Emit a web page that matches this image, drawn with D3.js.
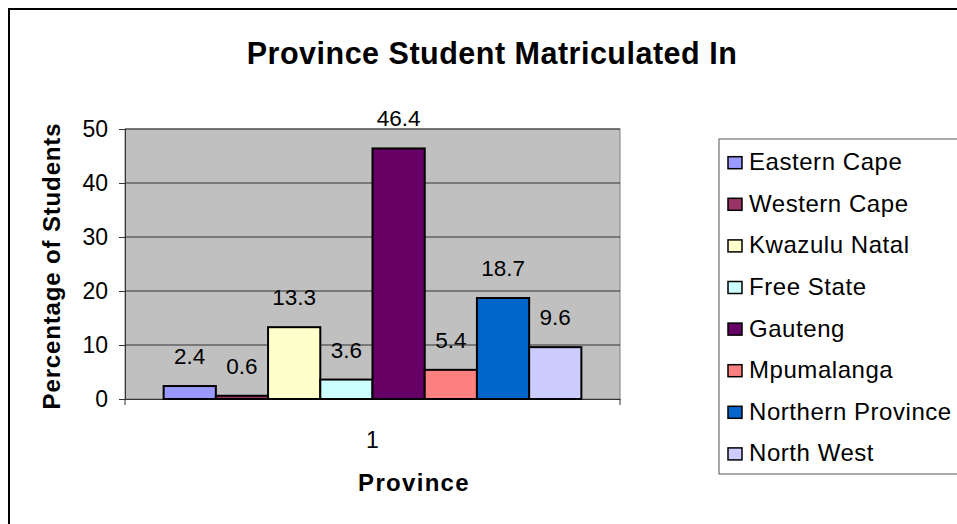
<!DOCTYPE html>
<html>
<head>
<meta charset="utf-8">
<script src="https://cdn.jsdelivr.net/npm/d3@7"></script>
<style>
  html, body { margin: 0; padding: 0; background: #fff; }
  svg { display: block; font-family: "Liberation Sans", Arial, sans-serif; }
</style>
</head>
<body>
<svg id="chart" width="957" height="524"></svg>
<script>
// Share of students by province of matriculation
const categories = ["1"];
const provinces = ["Eastern Cape", "Western Cape", "Kwazulu Natal", "Free State",
                   "Gauteng", "Mpumalanga", "Northern Province", "North West"];
const percentages = [2.4, 0.6, 13.3, 3.6, 46.4, 5.4, 18.7, 9.6];
const colors = ["#9999FF", "#993366", "#FFFFCC", "#CCFFFF",
                "#660066", "#FF8080", "#0066CC", "#CCCCFF"];
const yTicks = [0, 10, 20, 30, 40, 50];

const FONT = "Liberation Sans, Arial, sans-serif";
const svg = d3.select("#chart");
const plot = { left: 125, right: 620, top: 129, bottom: 399 };

// outer chart frame (runs past the right and bottom edges)
svg.append("rect")
  .attr("x", 9).attr("y", 9).attr("width", 1100).attr("height", 1100)
  .attr("fill", "#fff").attr("stroke", "#000").attr("stroke-width", 2);

const y = d3.scaleLinear().domain([0, 50]).range([plot.bottom, plot.top]);
const x0 = d3.scaleBand().domain(categories).range([plot.left, plot.right]);
const x1 = d3.scaleBand().domain(provinces).range([0, x0.bandwidth()])
  .paddingInner(0).paddingOuter(0.74);

// plot background
svg.append("rect")
  .attr("x", plot.left).attr("y", plot.top)
  .attr("width", plot.right - plot.left).attr("height", plot.bottom - plot.top)
  .attr("fill", "#C0C0C0").attr("stroke", "#808080").attr("stroke-width", 1);

// gridlines
svg.append("g").selectAll("line").data(yTicks.filter(d => d > 0)).join("line")
  .attr("x1", plot.left).attr("x2", plot.right)
  .attr("y1", d => y(d)).attr("y2", d => y(d))
  .attr("stroke", "#333").attr("stroke-width", 1);

// y axis
const yAxis = svg.append("g").attr("transform", `translate(${plot.left},0)`)
  .call(d3.axisLeft(y).tickValues(yTicks).tickSize(6).tickPadding(11).tickFormat(d3.format("d")));
yAxis.select(".domain").attr("stroke", "#333");
yAxis.selectAll(".tick line").attr("stroke", "#333");
yAxis.selectAll("text").attr("font-size", 23).attr("fill", "#000").attr("font-family", FONT);

// x axis
const xAxis = svg.append("g").attr("transform", `translate(0,${plot.bottom})`)
  .call(d3.axisBottom(x0).tickSize(0).tickPadding(33));
xAxis.select(".domain").attr("stroke", "#333");
xAxis.selectAll("text").attr("font-size", 23).attr("fill", "#000").attr("font-family", FONT);
// end ticks at the plot edges
svg.append("g").selectAll("line").data([plot.left, plot.right]).join("line")
  .attr("x1", d => d).attr("x2", d => d)
  .attr("y1", plot.bottom).attr("y2", plot.bottom + 6)
  .attr("stroke", "#333");

// bars
const g = svg.append("g").attr("transform", `translate(${x0("1")},0)`);
g.selectAll("rect").data(provinces).join("rect")
  .attr("x", d => x1(d)).attr("width", x1.bandwidth())
  .attr("y", (d, i) => y(percentages[i]))
  .attr("height", (d, i) => y(0) - y(percentages[i]))
  .attr("fill", (d, i) => colors[i])
  .attr("stroke", "#000").attr("stroke-width", 2);

// value labels
g.selectAll("text").data(provinces).join("text")
  .attr("x", d => x1(d) + x1.bandwidth() / 2)
  .attr("y", (d, i) => y(percentages[i]) - 22)
  .attr("text-anchor", "middle").attr("font-size", 22.5).attr("fill", "#000")
  .text((d, i) => percentages[i]);

// titles
svg.append("text").attr("x", 492).attr("y", 64).attr("text-anchor", "middle")
  .attr("font-size", 30.5).attr("font-weight", "bold").attr("letter-spacing", 0.5)
  .text("Province Student Matriculated In");
svg.append("text").attr("x", 414).attr("y", 491).attr("text-anchor", "middle")
  .attr("font-size", 24).attr("font-weight", "bold").attr("letter-spacing", 1.3)
  .text("Province");
svg.append("text").attr("transform", "translate(60,266) rotate(-90)").attr("text-anchor", "middle")
  .attr("font-size", 24).attr("font-weight", "bold").attr("letter-spacing", 0.85)
  .text("Percentage of Students");

// legend
svg.append("rect").attr("x", 719).attr("y", 139).attr("width", 300).attr("height", 335)
  .attr("fill", "#fff").attr("stroke", "#555").attr("stroke-width", 1);
const leg = svg.append("g").selectAll("g").data(provinces).join("g")
  .attr("transform", (d, i) => `translate(728,${161.7 + i * 41.6})`);
leg.append("rect").attr("x", 0).attr("y", -5).attr("width", 14).attr("height", 12)
  .attr("fill", (d, i) => colors[i]).attr("stroke", "#000").attr("stroke-width", 1.5);
leg.append("text").attr("x", 21).attr("y", 8.5).attr("font-size", 24).attr("fill", "#000")
  .attr("letter-spacing", 0.55).text(d => d);
</script>
</body>
</html>
